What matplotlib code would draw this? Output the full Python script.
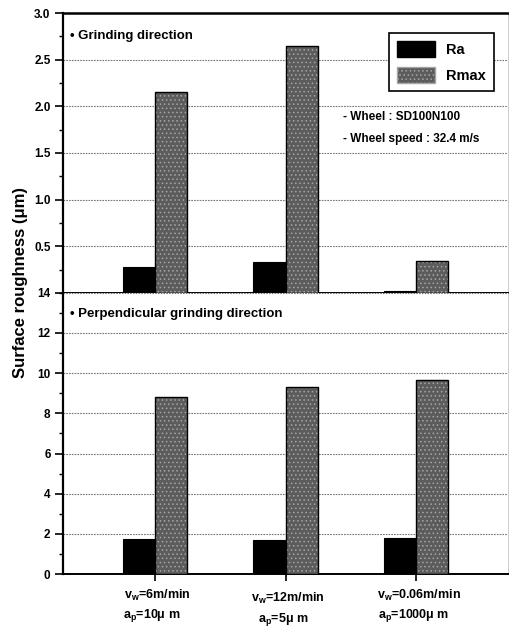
import numpy as np
import matplotlib.pyplot as plt
from matplotlib.patches import Patch
from matplotlib.ticker import MultipleLocator

plt.rcParams['font.family'] = ['Liberation Sans', 'DejaVu Sans']
plt.rcParams['font.weight'] = 'bold'
plt.rcParams['hatch.linewidth'] = 0.6


# Data

conditions = ["v$_{\\mathregular{w}}$=6m/min", "v$_{\\mathregular{w}}$=12m/min",
              "v$_{\\mathregular{w}}$=0.06m/min"]
depths = ["a$_{\\mathregular{p}}$=10\u03bc m", "a$_{\\mathregular{p}}$=5\u03bc m",
          "a$_{\\mathregular{p}}$=1000\u03bc m"]

ra_grinding = [0.28, 0.33, 0.02]
rmax_grinding = [2.15, 2.65, 0.34]

ra_perp = [1.74, 1.70, 1.80]
rmax_perp = [8.82, 9.30, 9.67]


# Layout

fig = plt.figure(figsize=(5.09, 6.27), dpi=100)
ax_top = fig.add_axes([0.124, 0.533, 0.874, 0.446])
ax_bot = fig.add_axes([0.124, 0.0845, 0.874, 0.4485])

x = np.arange(len(conditions))
w = 0.245
ra_col = "black"
rmax_col = "#5c5c5c"


def draw_bars(ax, ra, rmax):
    ax.bar(x - w / 2, ra, w, color=ra_col, edgecolor="black", linewidth=0.8, zorder=3)
    ax.bar(x + w / 2, rmax, w, color=rmax_col, edgecolor="#a5a5a5",
           hatch="....", linewidth=0, zorder=3)
    ax.bar(x + w / 2, rmax, w, fill=False, edgecolor="black", linewidth=1.0, zorder=4)
    ax.set_xlim(-0.7, 2.7)
    ax.set_xticks(x)
    ax.tick_params(axis="x", direction="out", length=5, width=1.2, labelbottom=False)
    ax.tick_params(axis="y", which="major", direction="out", length=6, width=1.2,
                   labelsize=8.5, pad=3)
    ax.tick_params(axis="y", which="minor", direction="out", length=3, width=1.0)
    ax.spines["left"].set_linewidth(1.6)
    ax.spines["bottom"].set_linewidth(1.4)
    ax.spines["right"].set_linewidth(0.5)
    ax.spines["right"].set_color("#bbbbbb")
    ax.yaxis.grid(True, which="major", color="#777777", linestyle=(0, (1.5, 1)),
                  linewidth=0.8, zorder=0)
    ax.set_axisbelow(True)


# Top panel: grinding direction

draw_bars(ax_top, ra_grinding, rmax_grinding)
ax_top.set_ylim(0, 3.0)
ax_top.yaxis.set_major_locator(MultipleLocator(0.5))
ax_top.yaxis.set_minor_locator(MultipleLocator(0.25))
ax_top.set_yticks([0.5, 1.0, 1.5, 2.0, 2.5, 3.0])
ax_top.spines["top"].set_linewidth(1.8)
ax_top.text(0.015, 0.92, "\u2022 Grinding direction", transform=ax_top.transAxes,
            fontsize=9.5, fontweight="bold", va="center")
ax_top.text(0.63, 0.63, "- Wheel : SD100N100", transform=ax_top.transAxes,
            fontsize=8.5, fontweight="bold", va="center")
ax_top.text(0.63, 0.55, "- Wheel speed : 32.4 m/s", transform=ax_top.transAxes,
            fontsize=8.5, fontweight="bold", va="center")

handles = [Patch(facecolor=ra_col, edgecolor="black"),
           Patch(facecolor=rmax_col, edgecolor="#a5a5a5", hatch="....")]
leg = ax_top.legend(handles, ["Ra", "Rmax"], loc="upper right",
                    bbox_to_anchor=(0.985, 0.955), fontsize=10.5,
                    fancybox=False, framealpha=1, edgecolor="black",
                    handlelength=2.6, handleheight=1.3, labelspacing=0.7,
                    borderpad=0.55, handletextpad=0.8)
leg.get_frame().set_linewidth(1.2)


# Bottom panel: perpendicular grinding direction

draw_bars(ax_bot, ra_perp, rmax_perp)
ax_bot.set_ylim(0, 14)
ax_bot.yaxis.set_major_locator(MultipleLocator(2))
ax_bot.yaxis.set_minor_locator(MultipleLocator(1))
ax_bot.spines["top"].set_visible(False)
ax_bot.text(0.015, 0.925, "\u2022 Perpendicular grinding direction",
            transform=ax_bot.transAxes, fontsize=9.5, fontweight="bold", va="center")

# Category labels, two lines each
offsets = [0.0, -0.012, 0.0]
for i in range(len(conditions)):
    ax_bot.text(x[i] + 0.02, -0.075 + offsets[i], conditions[i],
                transform=ax_bot.get_xaxis_transform(),
                ha="center", va="center", fontsize=9, fontweight="bold")
    ax_bot.text(x[i] - 0.02, -0.148 + offsets[i], depths[i],
                transform=ax_bot.get_xaxis_transform(),
                ha="center", va="center", fontsize=9, fontweight="bold")

fig.text(0.04, 0.55, "Surface roughness (\u03bcm)", rotation=90,
         ha="center", va="center", fontsize=12, fontweight="bold")

plt.savefig("out.png", dpi=100)
